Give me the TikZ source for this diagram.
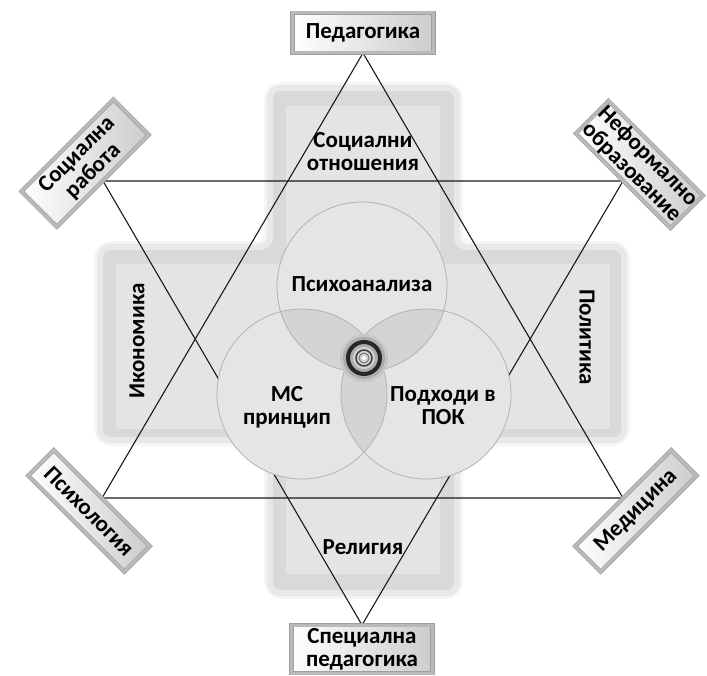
\documentclass[tikz,border=0pt]{standalone}
\usepackage{fontspec}
\setmainfont{Carlito}
\usetikzlibrary{positioning, backgrounds}
\tikzstyle{lbl} = [font=\bfseries\fontsize{23}{23}\selectfont, align=center, text=black]
\tikzstyle{discbox} = [lbl, draw=gray!75, line width=0.6pt, double=gray!55, double distance=3pt, left color=white, right color=gray!40, inner sep=1pt]
\tikzstyle{tri} = [black!90, line width=1.1pt]
\tikzstyle{veil} = [fill=black, fill opacity=0.07]

\begin{document}
\begin{tikzpicture}[x=1pt, y=-1pt]
  \useasboundingbox (0,0) rectangle (707,675);

  % outer boxes
  \node (ped) [discbox, minimum width=141pt, minimum height=40pt, anchor=south] at (363,53) {Педагогика};
  \node (spec) [discbox, minimum width=141pt, minimum height=48pt, anchor=north] at (362,625) {Специална\\педагогика};
  \node (sr) [discbox, rotate=45, minimum width=130pt, minimum height=50pt, anchor=south] at (103,181) {Социална\\работа};
  \node (nf) [discbox, rotate=-45, minimum width=134pt, minimum height=46pt, anchor=south] at (623,181) {Неформално\\образование};
  \node (psy) [discbox, rotate=-45, minimum width=136pt, minimum height=36pt, anchor=north] at (102,498) {Психология};
  \node (med) [discbox, rotate=45, minimum width=136pt, minimum height=36pt, anchor=north] at (623,498) {Медицина};

  \begin{scope}[on background layer]
    % cross
    \draw[line width=12pt, gray!8, rounded corners=12pt]
      (270,88) -- (457,88) -- (457,247) -- (624,247) -- (624,440) -- (457,440) -- (457,593)
      -- (270,593) -- (270,440) -- (100,440) -- (100,247) -- (270,247) -- cycle;
    \draw[line width=6pt, gray!18, fill=gray!30, rounded corners=10pt]
      (270,88) -- (457,88) -- (457,247) -- (624,247) -- (624,440) -- (457,440) -- (457,593)
      -- (270,593) -- (270,440) -- (100,440) -- (100,247) -- (270,247) -- cycle;
    \draw[white!70!gray, line width=1.5pt, fill=gray!21]
      (285,105) -- (441,105) -- (441,263) -- (611,263) -- (611,430) -- (441,430) -- (441,575)
      -- (285,575) -- (285,430) -- (115,430) -- (115,263) -- (285,263) -- cycle;
    % triangles
    \draw [tri] (ped.south) -- (psy.north) -- (med.north) -- cycle;
    \draw [tri] (spec.north) -- (sr.south) -- (nf.south) -- cycle;
  \end{scope}

  % circles
  \coordinate (ct) at (362,287);
  \coordinate (cl) at (302,394);
  \coordinate (cr) at (426,394);
  \fill[gray!6] (ct) circle (85pt) (cl) circle (85pt) (cr) circle (85pt);
  \foreach \c in {ct, cl, cr}
    \fill[veil] (\c) circle (85pt);
  \foreach \c in {ct, cl, cr}
    \draw[gray!60, line width=0.8pt] (\c) circle (85pt);

  % knob
  \coordinate (knob) at (364,358);
  \fill[gray!45] (knob) circle (24pt);
  \draw[gray!65, line width=10pt] (knob) circle (16pt);
  \draw[black!85, line width=4pt] (knob) circle (16pt);
  \fill[gray!35] (knob) circle (11pt);
  \draw[black!75, line width=1.5pt] (knob) circle (8pt);
  \draw[black!60, line width=0.8pt] (knob) circle (5pt);
  \fill[white] (knob) circle (2pt);

  % labels
  \node (so) [lbl] at (363,152) {Социални\\отношения};
  \node (ik) [lbl, rotate=90] at (137,341) {Икономика};
  \node (po) [lbl, rotate=-90] at (587,337) {Политика};
  \node (re) [lbl] at (363,547) {Религия};
  \node (ps) [lbl] at (362,284) {Психоанализа};
  \node (mc) [lbl] at (287,407) {МС\\принцип};
  \node (pk) [lbl] at (443,406) {Подходи в\\ПОК};
\end{tikzpicture}
\end{document}
